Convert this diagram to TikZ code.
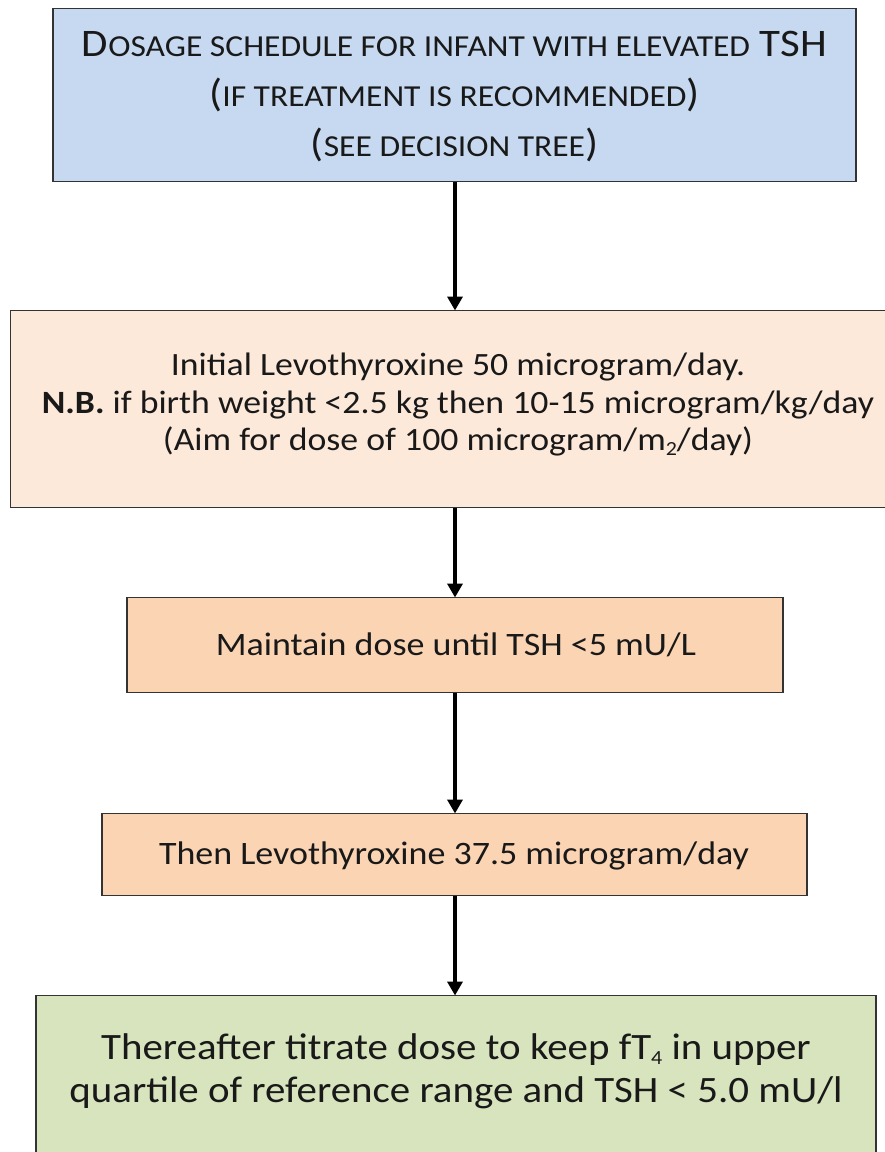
\documentclass[tikz,border=0pt]{standalone}
\usepackage{fontspec}
\setmainfont{Carlito}
\usetikzlibrary{arrows.meta}
\definecolor{hdrblue}{HTML}{C6D9F1}
\definecolor{palepeach}{HTML}{FDE9D9}
\definecolor{peach}{HTML}{FBD4B4}
\definecolor{sage}{HTML}{D7E4BD}
\definecolor{edge}{HTML}{333333}
% fake small caps: uppercase letters set smaller
\newcommand\smc[1]{{\fontsize{30.5}{30.5}\selectfont #1}}
\newcommand\lowsub[1]{\raisebox{-0.3ex}{\fontsize{20}{20}\selectfont #1}}
\tikzset{
  panel/.style={draw=edge, line width=1.3pt, rectangle, inner sep=0pt},
  caption/.style={align=center, text=black!90, inner sep=0pt, xscale=1.1, transform shape},
  flow/.style={line width=3.6pt, -{Triangle[width=15pt,length=14pt]}, shorten >=-0.5pt}
}
\begin{document}
\begin{tikzpicture}[x=1pt,y=-1pt]
\useasboundingbox (0,0) rectangle (885,1152);
\clip (0,0) rectangle (885,1152);
% boxes
\node[panel, fill=hdrblue, minimum width=803pt, minimum height=173pt, anchor=north] (hdr) at (454.5,8) {};
\node[panel, fill=palepeach, minimum width=900pt, minimum height=197pt, anchor=north west] (init) at (10,310) {};
\node[panel, fill=peach, minimum width=656pt, minimum height=95pt, anchor=north] (keep) at (455,597) {};
\node[panel, fill=peach, minimum width=705pt, minimum height=82pt, anchor=north] (then) at (454.5,813) {};
\node[panel, fill=sage, minimum width=840pt, minimum height=220pt, anchor=north] (titr) at (456,995) {};
% texts
\node[caption, font=\fontsize{39}{50}\selectfont] (hdrtxt) at (454.5,97)
  {D\smc{OSAGE SCHEDULE FOR INFANT WITH ELEVATED} TSH\\
   (\smc{IF TREATMENT IS RECOMMENDED})\\
   (\smc{SEE DECISION TREE})};
\node[caption, font=\fontsize{32.5}{37.5}\selectfont] (inittxt) at (458,405)
  {Initial Levothyroxine 50 microgram/day.\\
   \textbf{N.B.} if birth weight <2.5 kg then 10-15 microgram/kg/day\\
   (Aim for dose of 100 microgram/m\lowsub{2}/day)};
\node[caption, font=\fontsize{32.7}{36}\selectfont] (keeptxt) at (456,645)
  {Maintain dose until TSH <5 mU/L};
\node[caption, font=\fontsize{32.7}{36}\selectfont] (thentxt) at (454,856)
  {Then Levothyroxine 37.5 microgram/day};
\node[caption, font=\fontsize{37.2}{43}\selectfont] (titrtxt) at (456,1071)
  {Thereafter titrate dose to keep fT\lowsub{4} in upper\\
   quartile of reference range and TSH < 5.0 mU/l};
% connectors
\draw[flow] (hdr.south -| 455,0) -- (init.north -| 455,0);
\draw[flow] (init.south -| 455,0) -- (keep.north -| 455,0);
\draw[flow] (keep.south -| 455,0) -- (then.north -| 455,0);
\draw[flow] (then.south -| 455,0) -- (titr.north -| 455,0);
\end{tikzpicture}
\end{document}
